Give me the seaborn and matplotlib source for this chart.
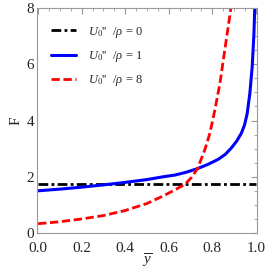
import matplotlib
matplotlib.use('Agg')
import matplotlib.pyplot as plt
import seaborn as sns
from matplotlib.ticker import MultipleLocator

# values
y_black = [0.0, 1.0]
F_black = [1.73, 1.73]

y_blue = [0.0, 0.1, 0.2, 0.3, 0.4, 0.5, 0.575, 0.628, 0.68, 0.732, 0.78, 0.827,
          0.86, 0.888, 0.912, 0.934, 0.948, 0.96, 0.972, 0.983, 0.991, 0.995]
F_blue = [1.5, 1.56, 1.63, 1.71, 1.8, 1.9, 2.0, 2.06, 2.16, 2.29, 2.44, 2.62,
          2.8, 3.03, 3.27, 3.56, 3.85, 4.25, 4.95, 5.92, 7.1, 8.1]

y_red = [0.0, 0.1, 0.2, 0.3, 0.4, 0.5, 0.575, 0.62, 0.674, 0.705, 0.732, 0.766,
         0.789, 0.812, 0.835, 0.855, 0.873, 0.887]
F_red = [0.33, 0.4, 0.5, 0.62, 0.8, 1.05, 1.32, 1.5, 1.73, 1.98, 2.29, 2.97,
         3.56, 4.39, 5.33, 6.4, 7.34, 8.1]

labels = [r"$U_0$''  /$\rho$ = 0", r"$U_0$''  /$\rho$ = 1", r"$U_0$''  /$\rho$ = 8"]

sns.set_style('white')
plt.rcParams['font.family'] = ['Liberation Serif', 'DejaVu Serif']
plt.rcParams['mathtext.fontset'] = 'custom'
plt.rcParams['mathtext.rm'] = 'Liberation Serif'
plt.rcParams['mathtext.it'] = 'Liberation Serif:italic'

fig = plt.figure(figsize=(2.67, 2.78), dpi=100)
ax = fig.add_axes([37 / 267, 45 / 278, 220 / 267, 225 / 278])

sns.lineplot(x=y_black, y=F_black, ax=ax, color='black', lw=2,
             linestyle=(0, (3.5, 1.2, 1, 1.2)), label=labels[0])
sns.lineplot(x=y_blue, y=F_blue, ax=ax, color='#0000ff', lw=2.2,
             label=labels[1])
sns.lineplot(x=y_red, y=F_red, ax=ax, color='#ff0000', lw=2,
             linestyle=(0, (3, 1.3)), label=labels[2])

ax.set_xlim(-0.005, 1.005)
ax.set_ylim(0, 8)
ax.xaxis.set_minor_locator(MultipleLocator(0.05))
ax.yaxis.set_major_locator(MultipleLocator(2))
ax.yaxis.set_minor_locator(MultipleLocator(0.5))
ax.set_xticks([0, 0.2, 0.4, 0.6, 0.8, 1.0])
ax.set_xticklabels(['0.0', '0.2', '0.4', '0.6', '0.8', '1.0'])
ax.tick_params(which='both', direction='in', top=True, right=True,
               color='#999999', labelsize=11)
ax.tick_params(axis='x', pad=6.5)
ax.tick_params(axis='y', pad=2)
ax.tick_params(which='major', length=4, width=0.8)
ax.tick_params(which='minor', length=2, width=0.6)
for s in ax.spines.values():
    s.set_color('#999999')
    s.set_linewidth(0.8)

ax.set_xlabel(r'$\overline{y}$', fontsize=11, labelpad=-2.5)
ax.set_ylabel('F', fontsize=11, labelpad=3)

ax.legend(loc='upper left', frameon=False, fontsize=9, handlelength=2.0,
          handletextpad=0.9, labelspacing=0.75, borderaxespad=0.5,
          borderpad=0.3, bbox_to_anchor=(0.02, 0.97))

fig.savefig('out.png', dpi=100)
